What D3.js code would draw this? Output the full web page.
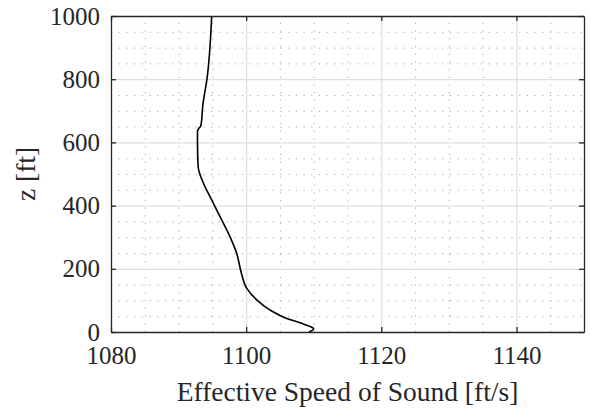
<!DOCTYPE html>
<html>
<head>
<meta charset="utf-8">
<script src="https://cdn.jsdelivr.net/npm/d3@7"></script>
<style>
	body { margin: 0; background: #fff; }
	svg { display: block; }
</style>
</head>
<body>
<svg id="chart" width="590" height="416"></svg>
<script>
// speed of sound profile
const speedValues = [1109.3, 1109.8, 1110.0, 1109.5, 1108.0, 1106.0, 1103.5, 1101.6, 1100.1, 1099.3, 1098.6, 1097.6, 1096.4, 1094.9, 1093.7, 1092.9, 1092.8, 1092.8, 1093.0, 1093.3, 1093.6, 1094.2, 1094.9];
const heightValues = [0, 5, 10, 17, 29, 43, 70, 101, 138, 186, 249, 302, 354, 418, 470, 523, 597, 635, 645, 652, 720, 800, 1000];

const xTicks = [1080, 1100, 1120, 1140];
const yTicks = [0, 200, 400, 600, 800, 1000];
const xMinorTicks = d3.range(1080, 1151, 5);
const yMinorTicks = d3.range(0, 1001, 50);

const //
	svg = d3.select('#chart'),
	serifFont = "'Liberation Serif', 'Times New Roman', Times, 'DejaVu Serif', serif",
	axisColor = '#262626',
	plotLeft = 111,
	plotRight = 584,
	plotTop = 16,
	plotBottom = 332,
	plotWidth = plotRight - plotLeft,
	plotHeight = plotBottom - plotTop;

const x = d3.scaleLinear().domain([1080, 1150]).range([plotLeft, plotRight]);
const y = d3.scaleLinear().domain([0, 1000]).range([plotBottom, plotTop]);

//minor dotted grid
svg.append('g')
	.attr('transform', `translate(0,${plotBottom})`)
	.call(d3.axisBottom(x).tickValues(xMinorTicks.filter(v => !xTicks.includes(v) && v < 1150)).tickSize(-plotHeight).tickFormat(''))
	.call(g => g.select('.domain').remove())
	.call(g => g.selectAll('line').attr('stroke', '#a8a8a8').attr('stroke-dasharray', '1.2,6.5'));

svg.append('g')
	.attr('transform', `translate(${plotLeft},0)`)
	.call(d3.axisLeft(y).tickValues(yMinorTicks.filter(v => !yTicks.includes(v))).tickSize(-plotWidth).tickFormat(''))
	.call(g => g.select('.domain').remove())
	.call(g => g.selectAll('line').attr('stroke', '#a8a8a8').attr('stroke-dasharray', '1.2,6.5'));

//major grid
svg.append('g')
	.attr('transform', `translate(0,${plotBottom})`)
	.call(d3.axisBottom(x).tickValues(xTicks.slice(1)).tickSize(-plotHeight).tickFormat(''))
	.call(g => g.select('.domain').remove())
	.call(g => g.selectAll('line').attr('stroke', '#dedede').attr('stroke-width', 1.2));

svg.append('g')
	.attr('transform', `translate(${plotLeft},0)`)
	.call(d3.axisLeft(y).tickValues(yTicks.slice(1, -1)).tickSize(-plotWidth).tickFormat(''))
	.call(g => g.select('.domain').remove())
	.call(g => g.selectAll('line').attr('stroke', '#dedede').attr('stroke-width', 1.2));

//the profile
const line = d3.line()
	.x((d, i) => x(speedValues[i]))
	.y(d => y(d))
	.curve(d3.curveMonotoneY);

svg.append('path')
	.datum(heightValues)
	.attr('d', line)
	.attr('fill', 'none')
	.attr('stroke', '#000')
	.attr('stroke-width', 1.6);

//box + inward ticks
function styleAxis(g) {
	g.attr('font-family', serifFont).attr('font-size', 25);
	g.select('.domain').attr('stroke', axisColor).attr('stroke-width', 1.3);
	g.selectAll('.tick line').attr('stroke', axisColor).attr('stroke-width', 1.3);
	g.selectAll('.tick text').attr('fill', axisColor);
}

const fmt = d3.format('d');

svg.append('g')
	.attr('transform', `translate(0,${plotBottom})`)
	.call(d3.axisBottom(x).tickValues(xTicks).tickFormat(fmt).tickSizeInner(-5).tickSizeOuter(0).tickPadding(14))
	.call(styleAxis);

svg.append('g')
	.attr('transform', `translate(0,${plotTop})`)
	.call(d3.axisTop(x).tickValues(xTicks).tickSizeInner(-5).tickSizeOuter(0).tickFormat(''))
	.call(styleAxis);

svg.append('g')
	.attr('transform', `translate(${plotLeft},0)`)
	.call(d3.axisLeft(y).tickValues(yTicks).tickFormat(fmt).tickSizeInner(-5).tickSizeOuter(0).tickPadding(11))
	.call(styleAxis);

svg.append('g')
	.attr('transform', `translate(${plotRight},0)`)
	.call(d3.axisRight(y).tickValues(yTicks).tickSizeInner(-5).tickSizeOuter(0).tickFormat(''))
	.call(styleAxis);

//axis labels
svg.append('text')
	.attr('x', (plotLeft + plotRight) / 2)
	.attr('y', 401)
	.attr('text-anchor', 'middle')
	.attr('fill', axisColor)
	.attr('font-family', serifFont)
	.attr('font-size', 27.5)
	.text('Effective Speed of Sound [ft/s]');

svg.append('text')
	.attr('transform', `translate(35,${(plotTop + plotBottom) / 2}) rotate(-90)`)
	.attr('text-anchor', 'middle')
	.attr('fill', axisColor)
	.attr('font-family', serifFont)
	.attr('font-size', 27.5)
	.text('z [ft]');
</script>
</body>
</html>
